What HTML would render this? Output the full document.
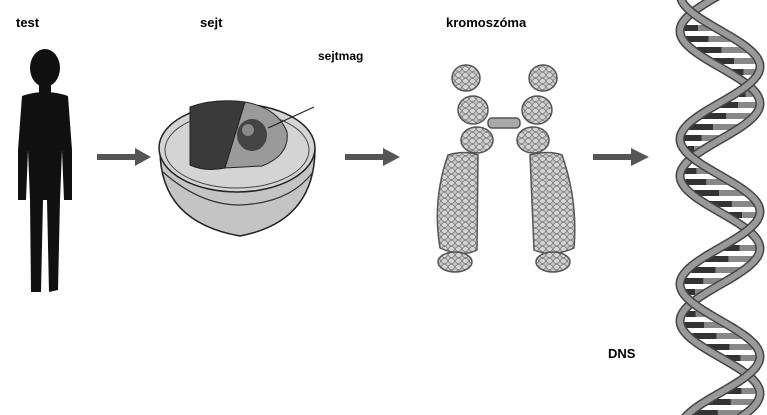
<!DOCTYPE html>
<html><head><meta charset="utf-8"><style>
html,body{margin:0;padding:0;background:#fff;width:767px;height:415px;overflow:hidden}
</style></head><body>
<svg id="s" width="767" height="415" viewBox="0 0 767 415" xmlns="http://www.w3.org/2000/svg" font-family="Liberation Sans, sans-serif" font-weight="bold">
<defs>
<pattern id="cells" width="7" height="6" patternUnits="userSpaceOnUse">
<rect width="7" height="6" fill="#c8c8c8"/>
<ellipse cx="3.5" cy="3" rx="3" ry="2.5" fill="#d4d4d4" stroke="#777" stroke-width="0.8"/>
</pattern>
</defs>
<text x="16" y="27" font-size="13">test</text>
<text x="200" y="27" font-size="13">sejt</text>
<text x="446" y="27" font-size="13">kromoszóma</text>
<text x="318" y="60" font-size="12">sejtmag</text>
<text x="608" y="358" font-size="13">DNS</text>
<!-- human -->
<g fill="#111">
<ellipse cx="45" cy="68" rx="15" ry="19"/>
<rect x="39" y="82" width="12" height="12"/>
<path d="M22 96 Q45 88 68 96 L72 150 L72 200 L64 200 L62 150 L60 200 L58 290 L49 292 L47 200 L43 200 L41 292 L31 292 L30 200 L28 150 L26 200 L18 200 L18 150 Z"/>
</g>
<!-- arrows -->
<g fill="#555">
<rect x="97" y="154" width="40" height="6"/><polygon points="135,148 151,157 135,166"/>
<rect x="345" y="154" width="40" height="6"/><polygon points="383,148 400,157 383,166"/>
<rect x="593" y="154" width="40" height="6"/><polygon points="631,148 649,157 631,166"/>
</g>
<!-- cell -->
<path d="M160 150 Q160 222 240 236 Q314 222 315 150 Z" fill="#c4c4c4" stroke="#222" stroke-width="1.5"/>
<path d="M163 172 Q200 205 240 205 Q290 203 313 172" fill="none" stroke="#333" stroke-width="1.2"/>
<ellipse cx="237" cy="148" rx="78" ry="44" fill="#d4d4d4" stroke="#222" stroke-width="1.5"/>
<ellipse cx="237" cy="150" rx="72" ry="38" fill="none" stroke="#444"/>
<path d="M190 107 Q215 98 245 102 L225 168 Q205 172 190 165 Z" fill="#3a3a3a" stroke="#222"/>
<path d="M245 102 Q278 108 287 132 Q290 155 262 166 L225 168 Z" fill="#9a9a9a" stroke="#222"/>
<ellipse cx="252" cy="135" rx="15" ry="16" fill="#444"/>
<ellipse cx="248" cy="130" rx="6" ry="6" fill="#888"/>
<line x1="268" y1="128" x2="314" y2="107" stroke="#222" stroke-width="1.2"/>
<!-- chromosome -->
<g fill="url(#cells)" stroke="#555" stroke-width="1.5">
<rect x="488" y="118" width="32" height="10" rx="4" fill="#aaa"/>
<ellipse cx="466" cy="78" rx="14" ry="13"/>
<ellipse cx="543" cy="78" rx="14" ry="13"/>
<ellipse cx="473" cy="110" rx="15" ry="14"/>
<ellipse cx="537" cy="110" rx="15" ry="14"/>
<ellipse cx="477" cy="140" rx="16" ry="13"/>
<ellipse cx="533" cy="140" rx="16" ry="13"/>
<path d="M448 155 Q465 150 478 155 L477 250 Q462 258 440 248 Q432 200 448 155 Z"/>
<path d="M530 155 Q548 150 562 155 Q578 200 574 248 Q552 258 534 250 Z"/>
<ellipse cx="455" cy="262" rx="17" ry="10"/>
<ellipse cx="553" cy="262" rx="17" ry="10"/>
</g>
<g id="dna"></g>
</svg>
<script>
(function(){
var g=document.getElementById('dna');
var P=145,cx=720,A=40,phi=1.6,y0=103.5;
function x1(y){return cx+A*Math.cos(2*Math.PI*(y-y0)/P);}
function x2(y){return cx+A*Math.cos(2*Math.PI*(y-y0)/P+phi);}
var h='';
for(var y=6;y<415;y+=11){
 var a=x1(y),b=x2(y);
 var l=Math.min(a,b)+4,r=Math.max(a,b)-4;
 if(r-l>12){var m=(l+r)/2;
 h+='<rect x="'+l+'" y="'+(y-3)+'" width="'+(m-l)+'" height="6" fill="#333"/>';
 h+='<rect x="'+m+'" y="'+(y-3)+'" width="'+(r-m)+'" height="6" fill="#888"/>';}
}
function path(f){var d='';for(var y=-5;y<=420;y+=3){d+=(d?'L':'M')+f(y).toFixed(1)+' '+y;}return d;}
[x1,x2].forEach(function(f){
 h+='<path d="'+path(f)+'" fill="none" stroke="#444" stroke-width="9"/>';
 h+='<path d="'+path(f)+'" fill="none" stroke="#999" stroke-width="6"/>';
});
g.innerHTML=h;
})();
</script>
</body></html>
